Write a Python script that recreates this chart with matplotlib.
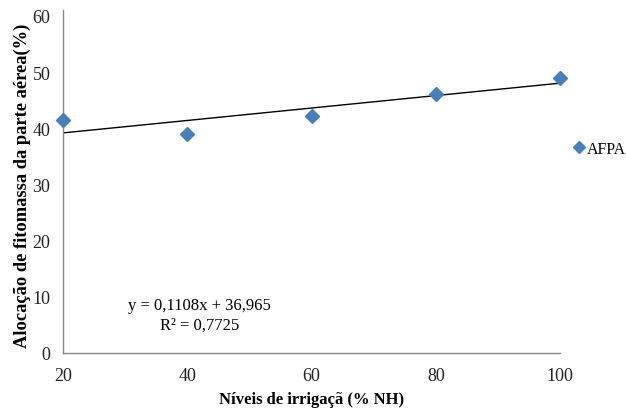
import numpy as np
import matplotlib.pyplot as plt

plt.rcParams['font.family'] = ['Liberation Serif', 'DejaVu Serif']

# Data
niveis = [20, 40, 60, 80, 100]
afpa = [41.5, 39.0, 42.2, 46.1, 48.9]
slope = 0.1108
intercept = 36.965
r2 = 0.7725

fig = plt.figure(figsize=(6.26, 4.14), dpi=100)
ax = fig.add_axes([0.1006, 0.145, 0.7945, 0.814])

x_fit = np.array([niveis[0], niveis[-1]])
ax.plot(x_fit, slope * x_fit + intercept, color='black', lw=1.0, zorder=2)
ax.plot(niveis, afpa, linestyle='none', marker='D', markersize=7.5,
        color='#4a7ebb', label='AFPA', zorder=3, clip_on=False)

ax.set_xlim(20, 100)
ax.set_ylim(0, 60)
ax.set_xticks(niveis)
ax.set_yticks(range(0, 61, 10))
ax.tick_params(length=0, labelsize=13, colors='#222222')
ax.tick_params(axis='x', pad=10)
ax.tick_params(axis='y', pad=9)
for s in ['top', 'right']:
    ax.spines[s].set_visible(False)
for s in ['left', 'bottom']:
    ax.spines[s].set_color('#888888')
    ax.spines[s].set_linewidth(1.0)
ax.spines['left'].set_bounds(0, 61)

ax.set_xlabel('Níveis de irrigaçã (% NH)', fontweight='bold', fontsize=12, labelpad=5)
ax.set_ylabel('Alocação de fitomassa da parte aérea(%)', fontweight='bold', fontsize=13.3, labelpad=1)

eq = 'y = {}x + {}\nR² = {}'.format(f'{slope:.4f}'.replace('.', ','),
                                    f'{intercept:.3f}'.replace('.', ','),
                                    f'{r2:.4f}'.replace('.', ','))
ax.text(42, 6.8, eq, ha='center', va='center', fontsize=12, linespacing=1.3)

ax.legend(loc='center left', bbox_to_anchor=(0.995, 0.605), frameon=False, fontsize=11.5,
          handletextpad=-0.1, handlelength=1.1, borderaxespad=0.4, markerscale=0.75)

fig.savefig('out.png', dpi=100)
